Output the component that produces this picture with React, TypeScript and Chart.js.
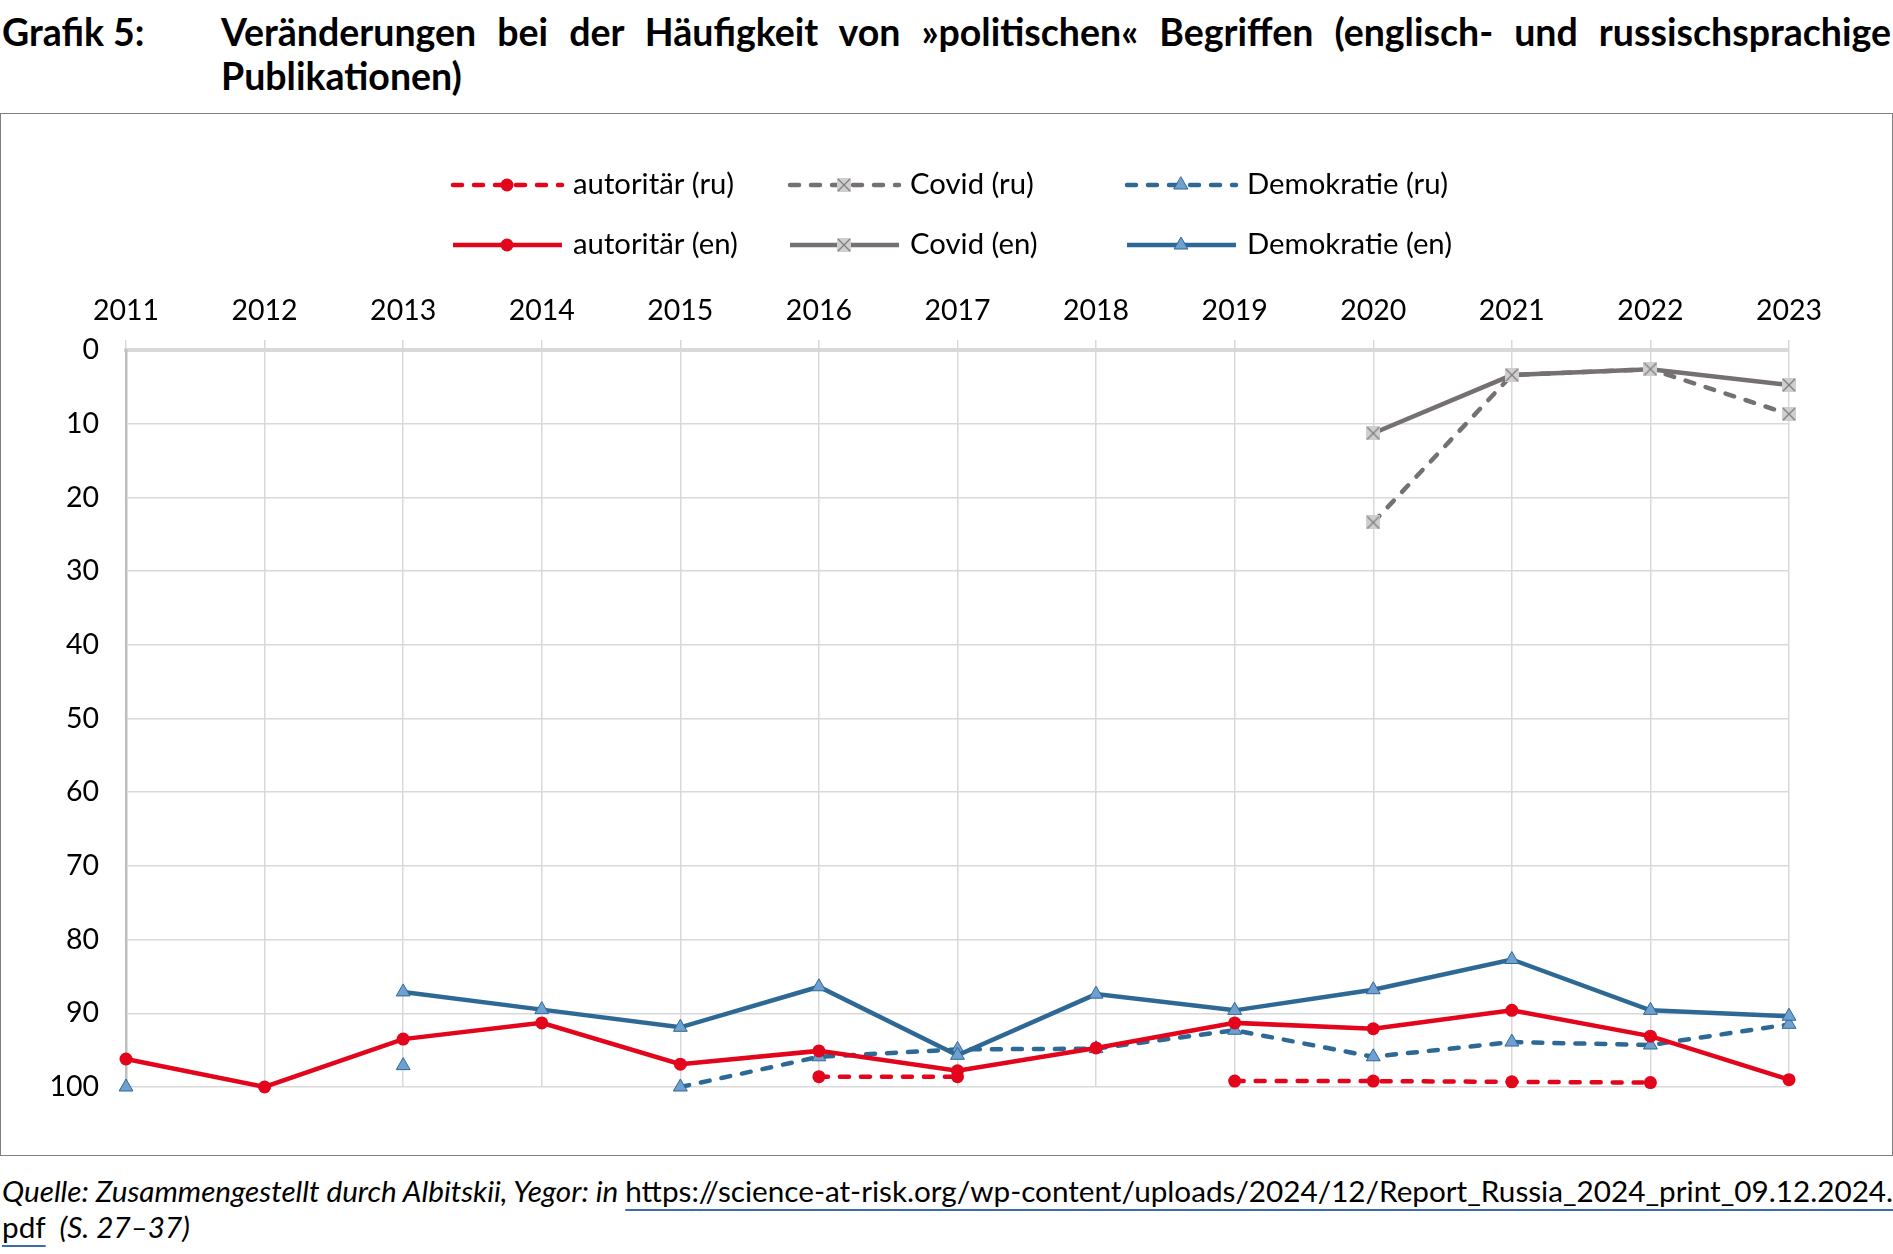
import React, { useEffect, useRef } from 'react';
import { Chart, registerables } from 'chart.js';

Chart.register(...registerables);

const years = ['2011', '2012', '2013', '2014', '2015', '2016', '2017', '2018', '2019', '2020', '2021', '2022', '2023'];
const autoritaerRu = [null, null, null, null, null, 98.6, 98.6, null, 99.2, 99.2, 99.3, 99.4, null];
const autoritaerEn = [96.2, 100, 93.5, 91.3, 96.9, 95.1, 97.8, 94.7, 91.3, 92.1, 89.6, 93.1, 99.0];
const covidRu = [null, null, null, null, null, null, null, null, null, 23.4, 3.4, 2.6, 8.7];
const covidEn = [null, null, null, null, null, null, null, null, null, 11.3, 3.4, 2.6, 4.75];
const demokratieRu = [100, null, 97.1, null, 100, 95.9, 94.9, 94.8, 92.3, 95.9, 93.9, 94.3, 91.5];
const demokratieEn = [null, null, 87.1, 89.5, 91.9, 86.4, 95.7, 87.4, 89.6, 86.8, 82.7, 89.6, 90.4];
const seriesLabels = ['autoritär (ru)', 'Covid (ru)', 'Demokratie (ru)', 'autoritär (en)', 'Covid (en)', 'Demokratie (en)'];

const RED = '#e3051b';
const GREY = '#767171';
const BLUE = '#2e6895';
const LIGHTBLUE = '#6fa0d0';
const FONT = 'Lato';

function makeCovidMarker(): HTMLCanvasElement {
  const c = document.createElement('canvas');
  c.width = 14;
  c.height = 14;
  const g = c.getContext('2d')!;
  g.fillStyle = '#d0cece';
  g.fillRect(0, 0, 14, 14);
  g.strokeStyle = '#7f7f7f';
  g.lineWidth = 1.3;
  g.beginPath();
  g.moveTo(1, 1);
  g.lineTo(13, 13);
  g.moveTo(13, 1);
  g.lineTo(1, 13);
  g.stroke();
  return c;
}

const legendPlugin = {
  id: 'gridLegend',
  afterDraw(chart: any) {
    const ctx = chart.ctx as CanvasRenderingContext2D;
    const cols = [453, 790, 1127];
    const rows = [72, 132];
    chart.data.datasets.forEach((ds: any, i: number) => {
      const x0 = cols[i % 3];
      const y = rows[Math.floor(i / 3)];
      ctx.save();
      ctx.strokeStyle = ds.borderColor;
      ctx.lineWidth = ds.borderWidth;
      ctx.setLineDash(ds.borderDash || []);
      ctx.lineCap = ds.borderCapStyle || 'butt';
      ctx.beginPath();
      ctx.moveTo(x0, y);
      ctx.lineTo(x0 + 109, y);
      ctx.stroke();
      ctx.setLineDash([]);
      const cx = x0 + 54;
      const ps = ds.pointStyle;
      if (ps === 'circle') {
        ctx.fillStyle = ds.pointBackgroundColor;
        ctx.beginPath();
        ctx.arc(cx, y, ds.pointRadius, 0, Math.PI * 2);
        ctx.fill();
      } else if (ps === 'triangle') {
        const r = ds.pointRadius;
        ctx.fillStyle = ds.pointBackgroundColor;
        ctx.strokeStyle = ds.pointBorderColor;
        ctx.lineWidth = ds.pointBorderWidth;
        ctx.beginPath();
        ctx.moveTo(cx, y - r);
        ctx.lineTo(cx + r * Math.sin(Math.PI / 3), y + r * 0.5);
        ctx.lineTo(cx - r * Math.sin(Math.PI / 3), y + r * 0.5);
        ctx.closePath();
        ctx.fill();
        ctx.stroke();
      } else if (ps instanceof HTMLCanvasElement) {
        ctx.drawImage(ps, cx - ps.width / 2, y - ps.height / 2);
      }
      ctx.fillStyle = '#000';
      ctx.font = `29.3px ${FONT}`;
      ctx.textBaseline = 'middle';
      ctx.textAlign = 'left';
      ctx.fillText(ds.label, x0 + 120, y);
      ctx.restore();
    });
  },
};

export default function App() {
  const ref = useRef<HTMLCanvasElement>(null);
  useEffect(() => {
    const covidMarker = makeCovidMarker();
    const dashed = [9, 12];
    const chart = new Chart(ref.current!, {
      type: 'line',
      data: {
        labels: years,
        datasets: [
          {
            label: seriesLabels[0], data: autoritaerRu, borderColor: RED, borderWidth: 4.5, borderDash: dashed, borderCapStyle: 'round',
            pointStyle: 'circle', pointRadius: 6.5, pointBackgroundColor: RED, pointBorderColor: RED, pointBorderWidth: 0, order: 1, clip: false,
          },
          {
            label: seriesLabels[1], data: covidRu, borderColor: GREY, borderWidth: 4.5, borderDash: dashed, borderCapStyle: 'round',
            pointStyle: covidMarker, pointRadius: 7, order: 5, clip: false,
          },
          {
            label: seriesLabels[2], data: demokratieRu, borderColor: BLUE, borderWidth: 4.5, borderDash: dashed, borderCapStyle: 'round',
            pointStyle: 'triangle', pointRadius: 8, pointBackgroundColor: LIGHTBLUE, pointBorderColor: BLUE, pointBorderWidth: 1, order: 3, clip: false,
          },
          {
            label: seriesLabels[3], data: autoritaerEn, borderColor: RED, borderWidth: 4.5,
            pointStyle: 'circle', pointRadius: 6.5, pointBackgroundColor: RED, pointBorderColor: RED, pointBorderWidth: 0, order: 0, clip: false,
          },
          {
            label: seriesLabels[4], data: covidEn, borderColor: GREY, borderWidth: 4.5,
            pointStyle: covidMarker, pointRadius: 7, order: 4, clip: false,
          },
          {
            label: seriesLabels[5], data: demokratieEn, borderColor: BLUE, borderWidth: 4.5,
            pointStyle: 'triangle', pointRadius: 8, pointBackgroundColor: LIGHTBLUE, pointBorderColor: BLUE, pointBorderWidth: 1, order: 2, clip: false,
          },
        ] as any,
      },
      options: {
        animation: false,
        responsive: false,
        maintainAspectRatio: false,
        spanGaps: false,
        layout: { padding: { left: 0, right: 104, top: 0, bottom: 69 } },
        plugins: { legend: { display: false }, tooltip: { enabled: false } },
        scales: {
          x: {
            position: 'top',
            offset: false,
            grid: { color: '#d9d9d9', lineWidth: 1.5, tickLength: 10, drawTicks: true },
            border: { color: '#d9d9d9', width: 4 },
            ticks: { color: '#000', font: { family: FONT, size: 28.5 }, padding: 12, maxRotation: 0, autoSkip: false },
            afterFit: (s: any) => { s.height = 237; },
          },
          y: {
            reverse: true,
            min: 0,
            max: 100,
            grid: {
              color: '#d9d9d9',
              lineWidth: (c: any) => (c.tick && c.tick.value === 0 ? 4 : 1.5),
              drawTicks: false,
            },
            border: { color: '#bfbfbf', width: 2.5 },
            ticks: { stepSize: 10, color: '#000', font: { family: FONT, size: 28.5 }, padding: 27 },
            afterFit: (s: any) => { s.width = 126; },
          },
        },
      } as any,
      plugins: [legendPlugin],
    });
    return () => chart.destroy();
  }, []);

  const underline = { textDecoration: 'underline', textDecorationColor: '#3b6ea5', textUnderlineOffset: '7px', textDecorationThickness: '1.5px' } as const;

  return (
    <div style={{ position: 'absolute', left: 0, top: 0, width: 1893, height: 1254, background: '#fff', fontFamily: FONT, color: '#000' }}>
      <div style={{ position: 'absolute', left: 2, top: 10, fontSize: 37.5, fontWeight: 700, lineHeight: '43.5px', whiteSpace: 'nowrap' }}>Grafik 5:</div>
      <div style={{ position: 'absolute', left: 221, top: 10, width: 1670, fontSize: 37.5, fontWeight: 700, lineHeight: '43.5px', textAlign: 'justify', textAlignLast: 'left' as any }}>
        Veränderungen bei der Häufigkeit von »politischen« Begriffen (englisch- und russischsprachige Publikationen)
      </div>
      <div style={{ position: 'absolute', left: 0, top: 113, width: 1893, height: 1043, border: '1.5px solid #7f7f7f', boxSizing: 'border-box' }} />
      <canvas ref={ref} width={1893} height={1043} style={{ position: 'absolute', left: 0, top: 113, width: 1893, height: 1043 }} />
      <div style={{ position: 'absolute', left: 2, top: 1173, fontSize: 29.7, lineHeight: '36px', whiteSpace: 'nowrap' }}>
        <i>Quelle: Zusammengestellt durch Albitskii, Yegor: in </i>
        <span style={underline}>https://science-at-risk.org/wp-content/uploads/2024/12/Report_Russia_2024_print_09.12.2024.</span>
      </div>
      <div style={{ position: 'absolute', left: 2, top: 1209, fontSize: 29.7, lineHeight: '36px', whiteSpace: 'nowrap' }}>
        <span style={underline}>pdf</span>
        <i>{'\u00a0 (S. 27–37)'}</i>
      </div>
    </div>
  );
}
